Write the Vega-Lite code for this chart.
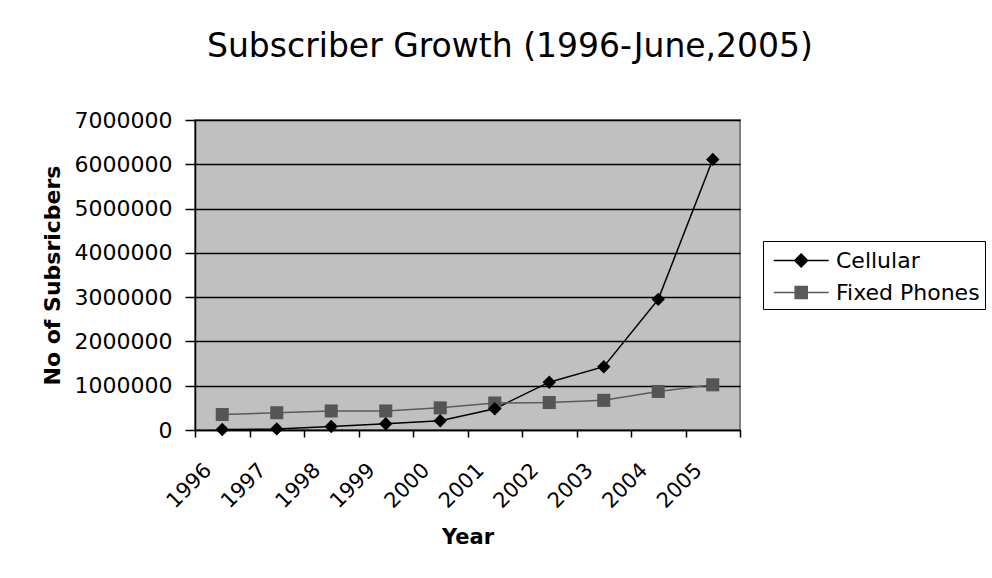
{
  "$schema": "https://vega.github.io/schema/vega-lite/v6.json",
  "width": 545,
  "height": 310,
  "autosize": "none",
  "padding": {"left": 195, "top": 120, "right": 252, "bottom": 148},
  "background": "white",
  "title": {
    "text": "Subscriber Growth (1996-June,2005)",
    "font": "DejaVu Sans",
    "fontSize": 33,
    "fontWeight": "normal",
    "color": "black",
    "anchor": "start",
    "frame": "group",
    "dx": 12,
    "baseline": "alphabetic",
    "offset": 19
  },
  "config": {
    "view": {"fill": "#c0c0c0", "stroke": "#808080", "strokeWidth": 2},
    "axis": {"labelFont": "DejaVu Sans", "titleFont": "DejaVu Sans", "labelColor": "black", "titleColor": "black", "domainColor": "black", "tickColor": "black", "domainWidth": 1.5, "tickWidth": 1.5}
  },
  "data": {
    "values": [
      {"year": "1996", "series": "Cellular", "value": 10000},
      {"year": "1997", "series": "Cellular", "value": 25000},
      {"year": "1998", "series": "Cellular", "value": 80000},
      {"year": "1999", "series": "Cellular", "value": 140000},
      {"year": "2000", "series": "Cellular", "value": 210000},
      {"year": "2001", "series": "Cellular", "value": 480000},
      {"year": "2002", "series": "Cellular", "value": 1080000},
      {"year": "2003", "series": "Cellular", "value": 1430000},
      {"year": "2004", "series": "Cellular", "value": 2950000},
      {"year": "2005", "series": "Cellular", "value": 6110000},
      {"year": "1996", "series": "Fixed Phones", "value": 350000},
      {"year": "1997", "series": "Fixed Phones", "value": 390000},
      {"year": "1998", "series": "Fixed Phones", "value": 430000},
      {"year": "1999", "series": "Fixed Phones", "value": 430000},
      {"year": "2000", "series": "Fixed Phones", "value": 500000},
      {"year": "2001", "series": "Fixed Phones", "value": 610000},
      {"year": "2002", "series": "Fixed Phones", "value": 620000},
      {"year": "2003", "series": "Fixed Phones", "value": 670000},
      {"year": "2004", "series": "Fixed Phones", "value": 870000},
      {"year": "2005", "series": "Fixed Phones", "value": 1020000}
    ]
  },
  "encoding": {
    "x": {
      "field": "year",
      "type": "ordinal",
      "bandPosition": 0.5,
      "scale": {"type": "band", "paddingInner": 0, "paddingOuter": 0},
      "axis": {
        "title": "Year",
        "titleFontSize": 21,
        "titleFontWeight": "bold",
        "titlePadding": 15,
        "labelAngle": -45,
        "labelFontSize": 21,
        "labelPadding": 22,
        "labelOffset": -22,
        "tickBand": "extent",
        "tickSize": 7,
        "grid": false
      }
    },
    "y": {
      "field": "value",
      "type": "quantitative",
      "scale": {"domain": [0, 7000000], "nice": false, "zero": true},
      "axis": {
        "title": "No of Subsricbers",
        "titleFontSize": 22,
        "titleFontWeight": "bold",
        "titlePadding": 10,
        "values": [0, 1000000, 2000000, 3000000, 4000000, 5000000, 6000000, 7000000],
        "format": "d",
        "labelFontSize": 22,
        "labelPadding": 13,
        "tickSize": 10,
        "grid": true,
        "gridColor": "black",
        "gridWidth": 1.5,
        "gridOpacity": 1
      }
    }
  },
  "layer": [
    {
      "mark": {"type": "line", "strokeWidth": 1.5},
      "encoding": {
        "color": {
          "field": "series",
          "type": "nominal",
          "scale": {"domain": ["Cellular", "Fixed Phones"], "range": ["#000000", "#5a5a5a"]},
          "legend": {
            "title": null,
            "orient": "none",
            "legendX": 568,
            "legendY": 121,
            "strokeColor": "black",
            "fillColor": "white",
            "padding": 5,
            "labelFont": "DejaVu Sans",
            "labelFontSize": 22,
            "labelColor": "black",
            "labelOffset": 39,
            "symbolSize": 756,
            "symbolStrokeWidth": 1.5,
            "rowPadding": 6,
            "encode": {
              "symbols": {
                "update": {
                  "shape": {"signal": "datum.value == 'Cellular' ? 'M-0.64,0L3.36,0M1.36,-0.47L1.83,0L1.36,0.47L0.89,0Z' : 'M-0.64,0L3.36,0M0.92,-0.44L1.8,-0.44L1.8,0.44L0.92,0.44Z'"},
                  "fill": {"scale": "color", "field": "value"},
                  "stroke": {"scale": "color", "field": "value"},
                  "strokeWidth": {"value": 1.5},
                  "opacity": {"value": 1}
                }
              }
            }
          }
        }
      }
    },
    {
      "transform": [{"filter": "datum.series == 'Fixed Phones'"}],
      "mark": {"type": "point", "shape": "square", "filled": true, "size": 170, "opacity": 1, "color": "#555555"}
    },
    {
      "transform": [{"filter": "datum.series == 'Cellular'"}],
      "mark": {"type": "point", "shape": "diamond", "filled": true, "size": 180, "opacity": 1, "color": "#000000"}
    }
  ]
}
